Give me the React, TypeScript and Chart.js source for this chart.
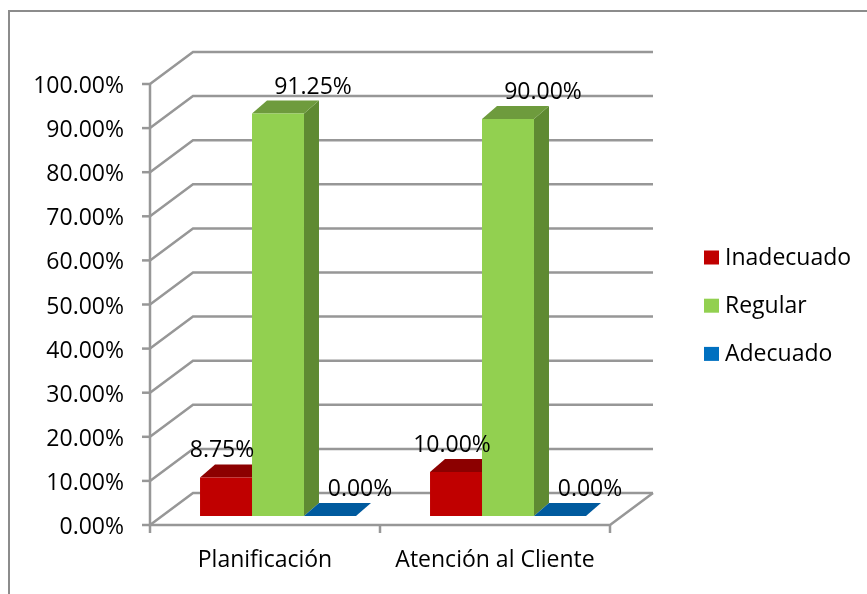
import React, { useEffect, useRef } from 'react';
import { Chart, registerables } from 'chart.js';

Chart.register(...registerables);

// ---- data ----
const categories = ['Planificación', 'Atención al Cliente'];
const seriesNames = ['Inadecuado', 'Regular', 'Adecuado'];
const inadecuado = [8.75, 10.0];
const regular = [91.25, 90.0];
const adecuado = [0.0, 0.0];
const yTickValues = [0, 10, 20, 30, 40, 50, 60, 70, 80, 90, 100];

// ---- style ----
const FRONT = ['#C00000', '#92D050', '#0070C0'];
const TOP = ['#8C0000', '#6E9B3D', '#005A9E'];
const SIDE = ['#8F0000', '#5F8A32', '#004C87'];
const GRID = '#979797';
const FONT = '"Open Sans", sans-serif';
const FS = 23;
const WALL = { dx: 43, dy: -32 };
const BAR_OFF = { dx: 13, dy: -9 };
const BAR_DEPTH = { dx: 15, dy: -13 };
const LABEL_DX = [-4, 35, 30];

const fmt = (v: number) => v.toFixed(2) + '%';

const threeD = {
  id: 'threeD',
  beforeDatasetsDraw(chart: any) {
    const { ctx, chartArea } = chart;
    const { left: L, right: R, bottom: B } = chartArea;
    const yScale = chart.scales.y;
    const xScale = chart.scales.x;
    ctx.save();
    ctx.strokeStyle = GRID;
    ctx.lineWidth = 2.5;
    ctx.lineJoin = 'miter';
    // grid on walls
    yTickValues.forEach((v) => {
      const y = yScale.getPixelForValue(v);
      ctx.beginPath();
      ctx.moveTo(L, y);
      ctx.lineTo(L + WALL.dx, y + WALL.dy);
      ctx.lineTo(R + WALL.dx, y + WALL.dy);
      ctx.stroke();
      // tick mark
      ctx.beginPath();
      ctx.moveTo(L - 8, y);
      ctx.lineTo(L, y);
      ctx.stroke();
    });
    // front axis
    const yTop = yScale.getPixelForValue(100);
    ctx.beginPath();
    ctx.moveTo(L, yTop);
    ctx.lineTo(L, B);
    ctx.lineTo(R, B);
    ctx.lineTo(R + WALL.dx, B + WALL.dy);
    ctx.stroke();
    // category ticks
    const n = categories.length;
    for (let i = 0; i <= n; i++) {
      const x = L + ((R - L) * i) / n;
      ctx.beginPath();
      ctx.moveTo(x, B);
      ctx.lineTo(x, B + 8);
      ctx.stroke();
    }
    // tick labels
    ctx.fillStyle = '#000';
    ctx.font = `${FS}px ${FONT}`;
    ctx.textAlign = 'right';
    ctx.textBaseline = 'alphabetic';
    yTickValues.forEach((v) => {
      const y = yScale.getPixelForValue(v);
      ctx.fillText(fmt(v), L - 26, y + 9);
    });
    // category labels
    ctx.textAlign = 'center';
    categories.forEach((c, i) => {
      ctx.fillText(c, xScale.getPixelForValue(i), B + 42);
    });

    // side and top faces of bars
    ctx.translate(BAR_OFF.dx, BAR_OFF.dy);
    chart.data.datasets.forEach((ds: any, di: number) => {
      const meta = chart.getDatasetMeta(di);
      meta.data.forEach((el: any) => {
        const l = el.x - el.width / 2;
        const r = el.x + el.width / 2;
        const t = el.y;
        const b = el.base;
        if (b - t > 0.5) {
          ctx.fillStyle = SIDE[di];
          ctx.beginPath();
          ctx.moveTo(r, t);
          ctx.lineTo(r + BAR_DEPTH.dx, t + BAR_DEPTH.dy);
          ctx.lineTo(r + BAR_DEPTH.dx, b + BAR_DEPTH.dy);
          ctx.lineTo(r, b);
          ctx.closePath();
          ctx.fill();
        }
        ctx.fillStyle = TOP[di];
        ctx.beginPath();
        ctx.moveTo(l, t);
        ctx.lineTo(r, t);
        ctx.lineTo(r + BAR_DEPTH.dx, t + BAR_DEPTH.dy);
        ctx.lineTo(l + BAR_DEPTH.dx, t + BAR_DEPTH.dy);
        ctx.closePath();
        ctx.fill();
      });
    });
    ctx.restore();
  },
  beforeDatasetDraw(chart: any) {
    chart.ctx.save();
    chart.ctx.translate(BAR_OFF.dx, BAR_OFF.dy);
  },
  afterDatasetDraw(chart: any) {
    chart.ctx.restore();
  },
  afterDatasetsDraw(chart: any) {
    const { ctx } = chart;
    ctx.save();
    ctx.fillStyle = '#000';
    ctx.font = `${FS}px ${FONT}`;
    ctx.textAlign = 'center';
    ctx.textBaseline = 'alphabetic';
    chart.data.datasets.forEach((ds: any, di: number) => {
      const meta = chart.getDatasetMeta(di);
      meta.data.forEach((el: any, i: number) => {
        ctx.fillText(fmt(ds.data[i]), el.x + BAR_OFF.dx + LABEL_DX[di], el.y + BAR_OFF.dy - 20);
      });
    });
    // legend
    ctx.textAlign = 'left';
    chart.data.datasets.forEach((ds: any, di: number) => {
      const top = 250.5 + di * 48.2;
      ctx.fillStyle = ds.backgroundColor;
      ctx.fillRect(704, top, 15, 14);
      ctx.fillStyle = '#000';
      ctx.fillText(ds.label, 725, top + 14.5);
    });
    // outer border
    ctx.strokeStyle = '#8c8c8c';
    ctx.lineWidth = 2;
    ctx.strokeRect(9, 11, 900, 700);
    ctx.restore();
  },
};

export default function App() {
  const ref = useRef<HTMLCanvasElement>(null);
  useEffect(() => {
    document.body.style.margin = '0';
    document.body.style.overflow = 'hidden';
    const canvas = ref.current!;
    const chart = new Chart(canvas, {
      type: 'bar',
      data: {
        labels: categories,
        datasets: [inadecuado, regular, adecuado].map((d, i) => ({
          label: seriesNames[i],
          data: d,
          backgroundColor: FRONT[i],
          borderWidth: 0,
          categoryPercentage: 0.678,
          barPercentage: 1,
          clip: false as any,
        })),
      },
      options: {
        responsive: false,
        animation: false,
        layout: { padding: { left: 150, top: 84, right: 257, bottom: 69 } },
        plugins: { legend: { display: false }, tooltip: { enabled: false } },
        scales: {
          x: { display: false },
          y: { display: false, min: 0, max: 100 },
        },
      },
      plugins: [threeD],
    });
    return () => chart.destroy();
  }, []);
  return (
    <div style={{ width: 867, height: 594, background: '#fff' }}>
      <canvas ref={ref} width={867} height={594} style={{ display: 'block' }} />
    </div>
  );
}
